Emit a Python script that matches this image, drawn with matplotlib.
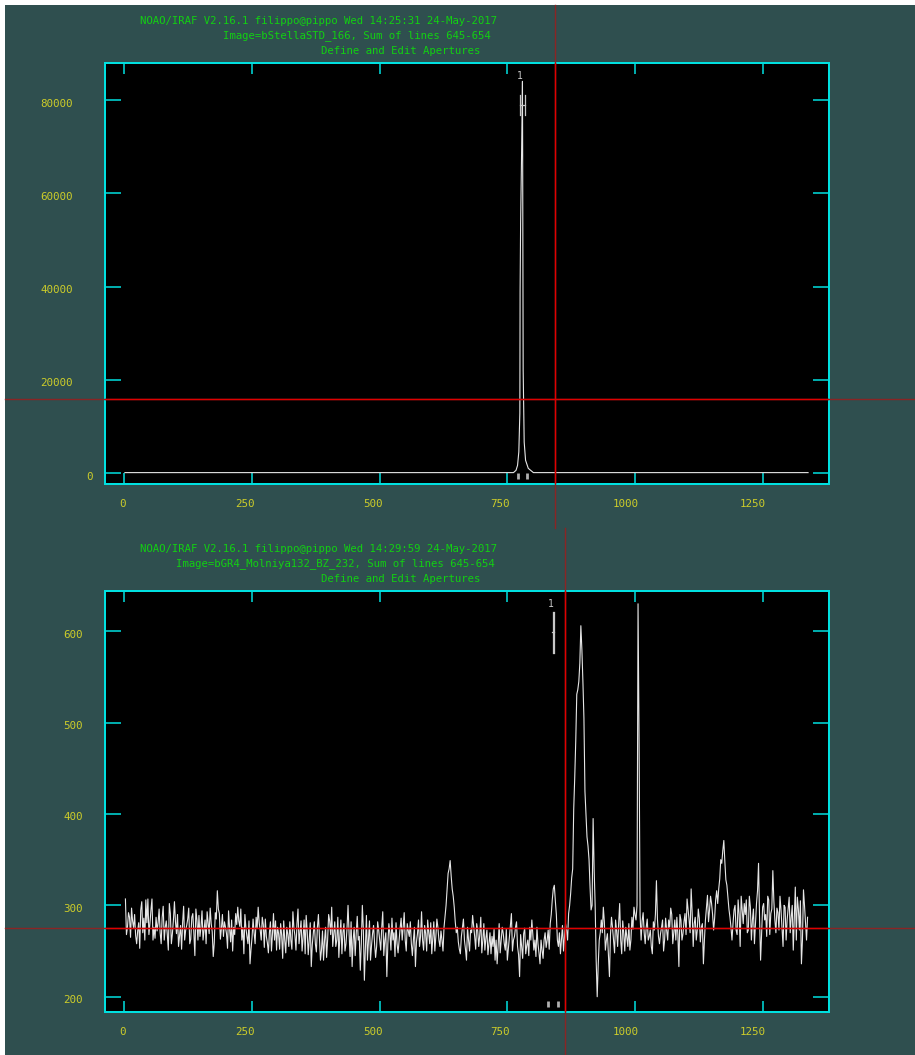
#! /usr/bin/env python

# IRAF apextract "Define and Edit Apertures" screens, two spectra stacked
import numpy as np
import matplotlib
matplotlib.use("Agg")
import matplotlib.pyplot as plt
from matplotlib.lines import Line2D
from matplotlib.patches import Rectangle

# ---- data ----
# standard star, sum of lines 645-654 (column, counts)
std_col = [1, 762, 767, 770, 772.5, 774.5, 775, 776, 778, 779.6, 780, 781, 783, 785.7, 791, 801, 1339]
std_counts = [150, 150, 640, 1700, 4600, 12900, 39000, 53600, 69300, 84000, 69300, 22100,
              6700, 2800, 1070, 150, 150]

# science target: columns 2, 6, 10, ...
sci_blue = [307, 276, 287, 297, 275, 267, 272, 253, 304, 286,
            306, 307, 280, 307, 276, 287, 281, 270, 287, 262,
            283, 251, 291, 269, 304, 269, 255, 278, 281, 262,
            278, 297, 263, 291, 245, 284, 289, 276, 262, 284,
            293, 269, 280, 244, 292, 316, 291, 275, 266, 276,
            253, 275, 284, 276, 291, 298, 277, 262, 247, 275,
            258, 236, 265, 270, 287, 298, 273, 287, 254, 266,
            248, 282, 269, 262, 251, 269, 280, 242, 262, 276,
            255, 262, 293, 267, 280, 258, 283, 265, 247, 272,
            262, 233, 269, 258, 276, 266, 251, 240, 276, 262,
            283, 298, 269, 255, 287, 266, 247, 280, 258]
sci_mid = [300, 244, 233, 276, 269, 262, 229, 300, 218, 289,
           262, 240, 269, 258, 255, 273, 251, 293, 262, 222,
           280, 251, 262, 244, 258, 262, 286, 276, 262, 280,
           266, 258, 262, 233, 269, 255, 293, 251, 269, 284,
           258, 247, 282, 266, 276, 255, 262, 276, 300, 335,
           349, 318, 298, 270, 260, 247, 276, 262, 240, 262,
           273, 289, 266, 280, 255, 287, 262, 251, 273, 258,
           247, 255, 240, 236, 280, 262, 269, 251, 240, 265,
           291, 262, 276, 255, 222, 255, 269, 247, 262, 276,
           284, 251, 244, 258, 236, 251, 262, 254, 273, 280,
           306, 322, 290, 255, 247, 278, 266, 273, 291, 313,
           340, 440, 531, 545, 606, 545, 425, 375, 350, 295,
           395, 300, 200, 262]
sci_red = [284, 298, 251, 269, 222, 287, 262, 284, 255, 302,
           247, 269, 276, 255, 251, 287, 298, 284, 630, 290,
           283, 270, 276, 262, 273, 247, 273, 327, 266, 269,
           284, 262, 273, 284, 297, 258, 284, 287, 233, 284,
           269, 291, 307, 284, 318, 255, 287, 273, 286, 276,
           236, 284, 311, 295, 302, 273, 306, 302, 329, 346,
           371, 328, 309, 287, 262, 295, 273, 306, 255, 295,
           302, 306, 273, 298, 284, 258, 302, 346, 240, 298,
           284, 266, 306, 291, 338, 284, 297, 273, 295, 255,
           298, 284, 309, 287, 251, 320, 309, 273, 236, 317,
           280, 287]
# science target: columns 4, 8, 12, ...
sci_blue_b = [268, 292, 265, 283, 290, 258, 281, 295, 270, 262,
              281, 268, 295, 262, 264, 272, 296, 258, 299, 276,
              268, 302, 258, 284, 282, 290, 266, 252, 299, 273,
              285, 258, 287, 270, 296, 262, 266, 294, 273, 258,
              281, 297, 271, 259, 285, 296, 263, 290, 282, 269,
              294, 260, 250, 268, 279, 283, 296, 276, 290, 266,
              283, 252, 285, 258, 275, 281, 262, 279, 285, 259,
              270, 250, 291, 283, 276, 252, 267, 283, 248, 268,
              282, 252, 275, 251, 296, 270, 250, 284, 289, 246,
              281, 257, 282, 249, 290, 240, 272, 262, 243, 290,
              268, 255, 282, 262, 243, 284, 270, 250, 275]
sci_mid_b = [270, 282, 262, 245, 288, 266, 258, 274, 255, 240,
             283, 256, 278, 243, 282, 262, 276, 245, 270, 258,
             269, 286, 270, 281, 248, 275, 262, 292, 250, 272,
             282, 245, 276, 260, 284, 266, 262, 278, 250, 270,
             281, 264, 250, 285, 262, 272, 250, 288, 318, 340,
             332, 310, 282, 276, 252, 266, 285, 252, 276, 250,
             270, 278, 252, 272, 268, 248, 280, 264, 246, 270,
             266, 274, 262, 256, 248, 276, 258, 274, 252, 278,
             250, 266, 282, 246, 268, 242, 275, 256, 245, 262,
             268, 262, 276, 248, 262, 242, 270, 262, 252, 290,
             318, 305, 262, 270, 262, 250, 280, 262, 300, 330,
             405, 480, 536, 565, 580, 505, 400, 365, 320, 300,
             340, 240, 235, 270]
sci_red_b = [270, 282, 262, 246, 268, 276, 248, 272, 280, 262,
             283, 250, 266, 280, 262, 274, 290, 300, 480, 262,
             292, 258, 285, 266, 255, 282, 290, 285, 258, 276,
             250, 286, 262, 276, 290, 270, 262, 268, 290, 262,
             282, 268, 296, 270, 292, 280, 262, 296, 260, 280,
             262, 298, 282, 310, 290, 286, 316, 318, 350, 360,
             348, 322, 296, 276, 280, 300, 268, 290, 310, 280,
             290, 270, 310, 262, 296, 280, 316, 286, 270, 302,
             290, 310, 268, 296, 305, 270, 292, 310, 276, 300,
             262, 296, 270, 300, 285, 262, 296, 305, 262, 300,
             262]

sci_even = sci_blue + sci_mid + sci_red
sci_odd = sci_blue_b + sci_mid_b + sci_red_b
sci_counts = np.empty(len(sci_even) + len(sci_odd))
sci_counts[0::2] = sci_even
sci_counts[1::2] = sci_odd
sci_col = 2 + 2 * np.arange(len(sci_counts))

# aperture 1: center, lower and upper limit (columns)
std_ap = [779.6, 770.4, 788.2]
sci_ap = [839.8, 830.6, 849.0]

x_ticks = [0, 250, 500, 750, 1000, 1250]
std_yticks = [0, 20000, 40000, 60000, 80000]
sci_yticks = [200, 300, 400, 500, 600]

std_titles = ["NOAO/IRAF V2.16.1 filippo@pippo Wed 14:25:31 24-May-2017",
              "Image=bStellaSTD_166, Sum of lines 645-654",
              "Define and Edit Apertures"]
sci_titles = ["NOAO/IRAF V2.16.1 filippo@pippo Wed 14:29:59 24-May-2017",
              "Image=bGR4_Molniya132_BZ_232, Sum of lines 645-654",
              "Define and Edit Apertures"]

# ---- look ----
W, H = 915, 1055
SLATE = "#2f4f4f"
CYAN = "#00e0e0"
YELLOW = "#cdcd2a"
GREEN = "#12d012"
MARK = "#c8c8c8"
MONO = "DejaVu Sans Mono"


def fx(px):
    return px / W


def fy(py):
    return 1 - py / H


fig = plt.figure(figsize=(W / 100, H / 100), dpi=100, facecolor="white")
fig.patches.append(Rectangle((fx(5), 0), 1 - fx(5), fy(5), transform=fig.transFigure,
                             facecolor=SLATE, edgecolor="none", zorder=-10))


def panel(top_px, xs, ys, ylim, yticks, titles, ap, box_hw, box_y, title_left, title_y):
    ax = fig.add_axes([fx(105), fy(top_px + 421), fx(829) - fx(105), 421 / H])
    ax.set_facecolor("black")
    ax.plot(xs, ys, color="#e6e6e6", lw=0.8)
    ax.set_xlim(-38, 1380)
    ax.set_ylim(ylim)

    ax.set_xticks(x_ticks)
    ax.set_yticks(yticks)
    ax.tick_params(axis="x", direction="in", length=7.9, width=1.1, color=CYAN,
                   top=True, bottom=True, labelbottom=False)
    ax.tick_params(axis="y", direction="in", length=11.5, width=1.1, color=CYAN,
                   left=True, right=True, labelleft=False)
    for s in ax.spines.values():
        s.set_color(CYAN)
        s.set_linewidth(1.44)

    # IRAF puts the numbers well away from the frame
    for t in x_ticks:
        lab = str(t)
        ax.annotate(lab, xy=(t, 0), xycoords=("data", "axes fraction"),
                    xytext=(-2.4 * len(lab), -20.3), textcoords="offset pixels",
                    ha="center", va="center", family=MONO, size=7.8, color=YELLOW)
    for t in yticks:
        lab = str(t)
        ax.annotate(lab, xy=(0, t), xycoords=("axes fraction", "data"),
                    xytext=(98 - 8.3 * len(lab) - 105, -3.5), textcoords="offset pixels",
                    ha="center", va="center", family=MONO, size=7.8, color=YELLOW)

    # aperture marker, its number and the limit marks
    tr = ax.get_xaxis_transform()
    c, lo, hi = ap
    y0, y1, ym = box_y
    ax.plot([c - box_hw, c - box_hw], [y0, y1], transform=tr, color=MARK, lw=0.9)
    ax.plot([c + box_hw, c + box_hw], [y0, y1], transform=tr, color=MARK, lw=0.9)
    ax.plot([c - box_hw - 1, c + box_hw + 1], [ym, ym], transform=tr, color=MARK, lw=0.9)
    ax.text(c - 5, 0.970, "1", transform=tr, ha="center", va="center",
            family=MONO, size=7, color=MARK)
    ax.plot([lo, hi], [0.019, 0.019], transform=tr, ls="none", marker="|",
            ms=4, mew=2, color="#b0b0b0")

    for txt, left, yc in zip(titles, title_left, title_y):
        fig.text(fx(left), fy(yc), txt, ha="left", va="center",
                 family=MONO, size=7.7, color=GREEN)
    return ax


ax1 = panel(63, std_col, std_counts, (-2290, 87930), std_yticks, std_titles,
            std_ap, 4.2, (0.8765, 0.924, 0.900), [140, 223, 321], [20.5, 35.5, 51.5])
ax2 = panel(591, sci_col, sci_counts, (183.3, 644.0), sci_yticks, sci_titles,
            sci_ap, 1.2, (0.853, 0.950, 0.903), [140, 176, 321], [548.5, 563.5, 579.5])


# graphics cursor cross-hairs: dull over the slate, bright over the plot
def cursor(xa, ya, ax):
    for col, clip in (("#8a2525", False), ("#e00000", True)):
        ln = Line2D(xa, ya, transform=fig.transFigure, color=col, lw=1.0, zorder=5)
        fig.lines.append(ln)
        if clip:
            ln.set_clip_path(ax.patch)


cursor([fx(5), 1], [fy(399), fy(399)], ax1)
cursor([fx(555), fx(555)], [fy(5), fy(528)], ax1)
cursor([fx(5), 1], [fy(928), fy(928)], ax2)
cursor([fx(565), fx(565)], [fy(528), 0], ax2)

fig.savefig("out.png", dpi=100, facecolor=fig.get_facecolor())
